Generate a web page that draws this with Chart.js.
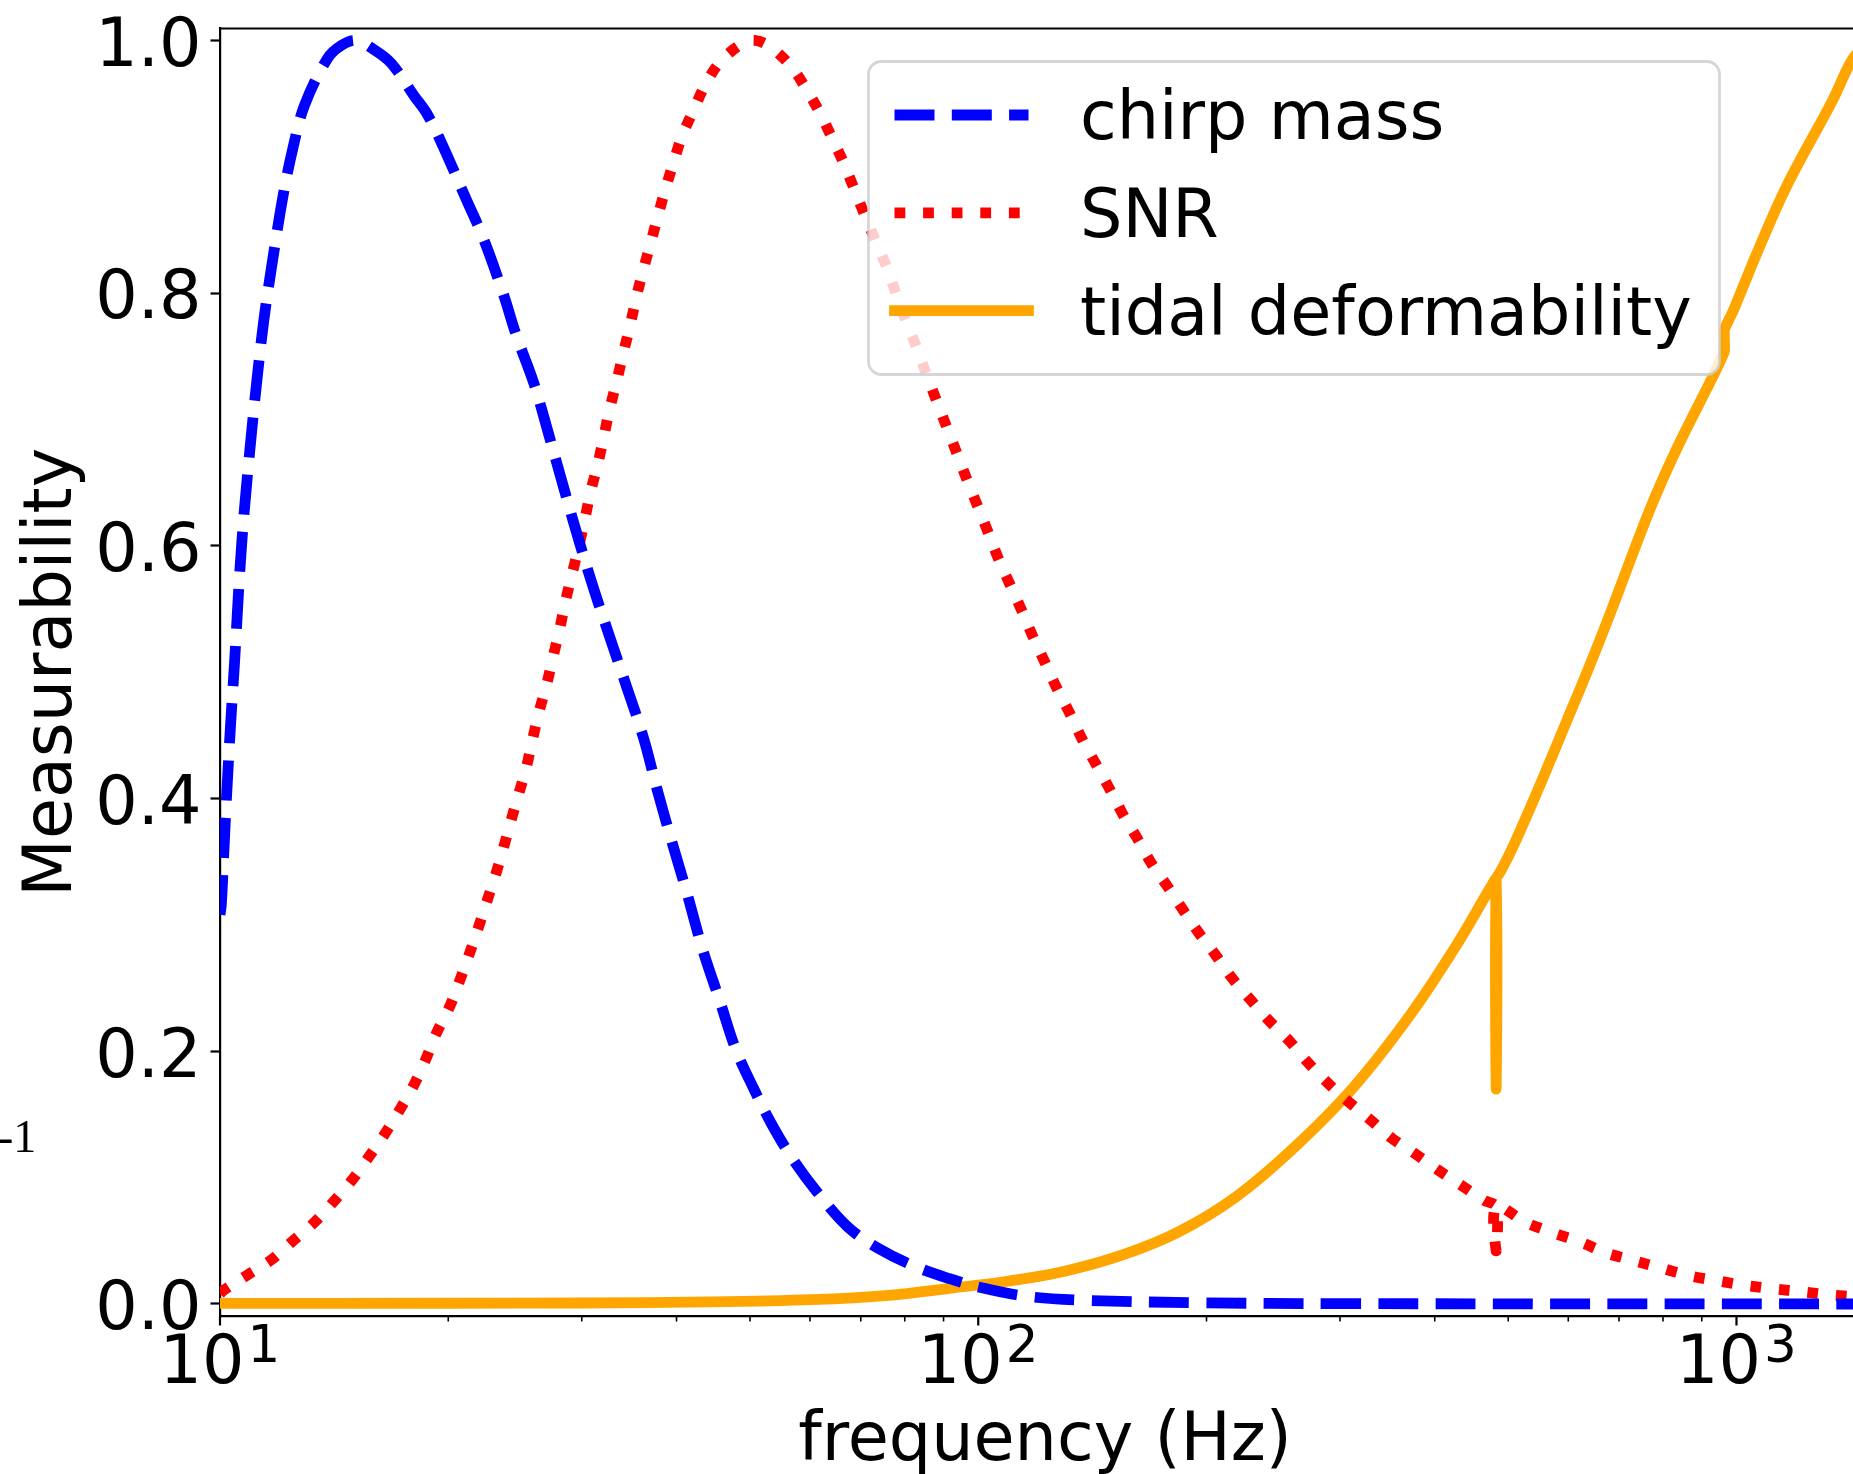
<!DOCTYPE html>
<html>
<head>
<meta charset="utf-8">
<title>Measurability vs frequency</title>
<script src="https://cdn.jsdelivr.net/npm/chart.js@4.4.1/dist/chart.umd.min.js"></script>
<style>
  html, body { margin: 0; padding: 0; background: #fff; overflow: hidden; }
  #wrap { position: relative; width: 1853px; height: 1474px; overflow: hidden; }
  #plot { position: absolute; left: 0; top: 0; }
</style>
</head>
<body>
<div id="wrap">
  <canvas id="plot" width="1870" height="1474"></canvas>
</div>
<script>
// Normalised measurability of each quantity against GW frequency (Hz).
const chirpFreq = [10.0, 10.04, 10.12, 10.20, 10.33, 10.45, 10.62, 10.77, 10.99, 11.19, 11.42, 11.69, 12.11, 12.48, 12.93, 13.87, 14.45, 15.10, 15.94, 16.82, 18.04, 18.75, 19.73, 21.06, 22.23, 23.65, 24.58, 25.96, 27.2, 28.49, 29.85, 31.26, 32.74, 34.4, 36.23, 37.64, 39.43, 41.3, 43.28, 45.67, 47.85, 50.51, 53.33, 56.75, 61.31, 67.3, 73.84, 82.31, 91.7, 100, 115, 137, 195, 300, 1500];
const chirpMeas = [0.308, 0.316, 0.359, 0.401, 0.460, 0.507, 0.580, 0.629, 0.686, 0.732, 0.778, 0.820, 0.877, 0.915, 0.949, 0.986, 0.996, 1.000, 0.993, 0.982, 0.956, 0.942, 0.915, 0.876, 0.844, 0.799, 0.767, 0.728, 0.686, 0.643, 0.601, 0.562, 0.526, 0.488, 0.447, 0.409, 0.366, 0.325, 0.281, 0.239, 0.202, 0.171, 0.143, 0.116, 0.0886, 0.061, 0.044, 0.030, 0.020, 0.0135, 0.0063, 0.003, 0.001, 0.0003, 0];

const snrFreq = [10.0, 10.09, 10.87, 11.69, 12.48, 13.34, 14.12, 14.93, 15.74, 16.51,
  17.27, 18.04, 18.69, 19.28, 20.04, 20.68, 21.32, 21.89, 22.47, 23.10,
  23.65, 24.21, 24.78, 25.36, 25.84, 26.36, 26.98, 27.49, 28.05, 28.57,
  29.14, 29.74, 30.30, 30.82, 31.50, 32.09, 32.64, 33.35, 34.04, 34.73,
  35.38, 36.10, 36.95, 37.76, 38.65, 39.62, 40.66, 42.14, 43.74, 45.81,
  48.98, 50.9, 53.16, 56.56, 59.25, 61.79, 64.24, 66.57, 68.87, 71.04,
  73.50, 75.80, 77.96, 80.41, 82.94, 85.54, 88.23, 91.0, 93.89, 96.83,
  99.88, 103.0, 106.3, 110.2, 114.1, 118.1, 122.4, 126.8, 131.9, 137.1,
  142.7, 148.9, 155.0, 161.9, 169.1, 177.4, 186.2, 195.2, 205.7, 216.1,
  228.5, 242.1, 257.4, 272.2, 288.9, 306.6, 328.7, 351.4, 376.7, 404.1,
  433.4, 464.7, 482.0, 482.0, 482.0, 527, 575.3, 622.5, 673.3, 732.2,
  795, 867.7, 947, 1024.5, 1118, 1220, 1326, 1500];
const snrMeas = [0.008, 0.0104, 0.023, 0.035, 0.050, 0.065, 0.081, 0.098, 0.117, 0.135,
  0.154, 0.174, 0.194, 0.214, 0.234, 0.255, 0.277, 0.297, 0.318, 0.340,
  0.361, 0.383, 0.404, 0.425, 0.447, 0.469, 0.491, 0.512, 0.534, 0.557,
  0.578, 0.600, 0.622, 0.643, 0.665, 0.687, 0.708, 0.730, 0.753, 0.774,
  0.796, 0.817, 0.839, 0.860, 0.882, 0.903, 0.924, 0.945, 0.966, 0.984,
  0.998, 1.000, 0.995, 0.980, 0.962, 0.943, 0.922, 0.902, 0.880, 0.860,
  0.839, 0.820, 0.799, 0.777, 0.757, 0.735, 0.714, 0.693, 0.672, 0.651,
  0.631, 0.611, 0.590, 0.569, 0.549, 0.528, 0.508, 0.488, 0.468, 0.447,
  0.428, 0.408, 0.388, 0.369, 0.349, 0.331, 0.312, 0.294, 0.276, 0.258,
  0.241, 0.224, 0.208, 0.191, 0.175, 0.161, 0.146, 0.131, 0.119, 0.106,
  0.094, 0.082, 0.077, 0.042, 0.077, 0.0646, 0.056, 0.049, 0.0405, 0.0343,
  0.0285, 0.0223, 0.0182, 0.0148, 0.012, 0.0097, 0.0073, 0.005];

const tidalFreq = [10, 20, 30, 44.3, 60.3, 76.2, 91.7, 109.2, 130.1, 155,
  184.6, 219.9, 261.9, 311.9, 371.5, 427.3, 474.7, 482.0, 482.0, 482.0,
  488, 500, 518, 555.4, 595.8, 639, 685, 767.8, 832.7, 930.6,
  958, 964.0, 964.0, 970, 990, 1061, 1163, 1340, 1422, 1500];
const tidalMeas = [0.0005, 0.0006, 0.0008, 0.0017, 0.0035, 0.0069, 0.0124, 0.018, 0.026, 0.0388,
  0.0577, 0.0858, 0.1246, 0.1709, 0.229, 0.284, 0.3305, 0.336, 0.170, 0.336,
  0.342, 0.354, 0.374, 0.416, 0.460, 0.504, 0.550, 0.628, 0.676, 0.734,
  0.750, 0.754, 0.771, 0.775, 0.786, 0.830, 0.884, 0.953, 0.985, 1.0];

const seriesLabels = ['chirp mass', 'SNR', 'tidal deformability'];
const yTicks = [0, 0.2, 0.4, 0.6, 0.8, 1.0];
const xMajorTicks = [10, 100, 1000];
const xTickExponents = ['1', '2', '3'];

const FONT = "'DejaVu Sans'";
const FS = 66.8;      // main text size
const FS_EXP = 51.5;  // exponent size on the log axis
const LW = 10.8;

const toPoints = (xs, ys) => xs.map((x, i) => ({ x, y: ys[i] }));

// frame, log ticks on x, legend box and the stray edge label
const decorations = {
  id: 'decorations',
  afterDatasetsDraw(chart) {
    const { ctx, chartArea: area, scales: { x } } = chart;
    ctx.save();

    ctx.strokeStyle = '#000';
    ctx.lineWidth = 2.2;
    ctx.beginPath();
    ctx.moveTo(area.left, area.top);
    ctx.lineTo(area.right, area.top);
    ctx.lineTo(area.right, area.bottom);
    ctx.stroke();

    ctx.fillStyle = '#000';
    ctx.textAlign = 'left';
    ctx.textBaseline = 'alphabetic';
    xMajorTicks.forEach((major, i) => {
      for (let m = 1; m < 10; m++) {
        const v = major * m;
        if (v < x.min || v > x.max) continue;
        const px = x.getPixelForValue(v);
        ctx.lineWidth = m === 1 ? 2.2 : 1.6;
        ctx.beginPath();
        ctx.moveTo(px, area.bottom);
        ctx.lineTo(px, area.bottom + (m === 1 ? 9.5 : 5.5));
        ctx.stroke();
      }
      const px = x.getPixelForValue(major);
      const exp = xTickExponents[i];
      ctx.font = `${FS}px ${FONT}`;
      const baseW = ctx.measureText('10').width;
      ctx.font = `${FS_EXP}px ${FONT}`;
      const expW = ctx.measureText(exp).width;
      const left = px - (baseW + 3 + expW) / 2;
      ctx.font = `${FS}px ${FONT}`;
      ctx.fillText('10', left, area.bottom + 67.3);
      ctx.font = `${FS_EXP}px ${FONT}`;
      ctx.fillText(exp, left + baseW + 3, area.bottom + 45.7);
    });

    // legend
    const bx = 868.5, by = 61.5, bw = 851, bh = 313, r = 13;
    ctx.beginPath();
    ctx.moveTo(bx + r, by);
    ctx.lineTo(bx + bw - r, by);
    ctx.arcTo(bx + bw, by, bx + bw, by + r, r);
    ctx.lineTo(bx + bw, by + bh - r);
    ctx.arcTo(bx + bw, by + bh, bx + bw - r, by + bh, r);
    ctx.lineTo(bx + r, by + bh);
    ctx.arcTo(bx, by + bh, bx, by + bh - r, r);
    ctx.lineTo(bx, by + r);
    ctx.arcTo(bx, by, bx + r, by, r);
    ctx.closePath();
    ctx.fillStyle = 'rgba(255,255,255,0.8)';
    ctx.fill();
    ctx.strokeStyle = 'rgba(204,204,204,0.8)';
    ctx.lineWidth = 2.8;
    ctx.stroke();

    chart.data.datasets.forEach((ds, i) => {
      const y = 115 + i * 97.8;
      ctx.strokeStyle = ds.borderColor;
      ctx.lineWidth = ds.borderWidth;
      ctx.setLineDash(ds.borderDash || []);
      ctx.lineCap = ds.borderDash ? 'butt' : 'square';
      ctx.beginPath();
      ctx.moveTo(894.5, y);
      ctx.lineTo(1028.5, y);
      ctx.stroke();
      ctx.setLineDash([]);
      ctx.fillStyle = '#000';
      ctx.font = `${FS}px ${FONT}`;
      ctx.fillText(ds.label, 1080, y + 24.3);
    });

    ctx.font = "46px 'Liberation Serif'";
    ctx.fillText('-1', -2, 1151.5);
    ctx.restore();
  }
};

Chart.defaults.font.family = FONT;
Chart.defaults.color = '#000';

new Chart(document.getElementById('plot'), {
  type: 'line',
  data: {
    datasets: [
      {
        label: seriesLabels[0],
        data: toPoints(chirpFreq, chirpMeas),
        borderColor: '#0000ff',
        borderWidth: LW,
        borderDash: [40, 17.3]
      },
      {
        label: seriesLabels[1],
        data: toPoints(snrFreq, snrMeas),
        borderColor: '#ff0000',
        borderWidth: LW,
        borderDash: [10.8, 17.8]
      },
      {
        label: seriesLabels[2],
        data: toPoints(tidalFreq, tidalMeas),
        borderColor: '#ffa500',
        borderWidth: LW
      }
    ]
  },
  options: {
    responsive: false,
    animation: false,
    devicePixelRatio: 1,
    layout: { padding: { top: 28.5, right: 0, bottom: 0, left: 0 } },
    elements: {
      point: { radius: 0 },
      line: { tension: 0.35, borderJoinStyle: 'round', borderCapStyle: 'butt' }
    },
    datasets: { line: { clip: 0 } },
    plugins: { legend: { display: false }, tooltip: { enabled: false } },
    scales: {
      x: {
        type: 'logarithmic',
        min: 10,
        max: 1500,
        grid: { display: false },
        border: { display: true, color: '#000', width: 2.2 },
        ticks: { display: false },
        title: {
          display: true,
          text: 'frequency (Hz)',
          font: { size: FS, lineHeight: 1 },
          padding: { top: 0, bottom: -2 }
        },
        afterFit(s) {
          s.height = 158;
          s.paddingLeft = 0;
          s.paddingRight = 0;
        }
      },
      y: {
        min: -0.0095,
        max: 1.0095,
        afterBuildTicks(s) {
          s.ticks = yTicks.map(v => ({ value: v }));
        },
        grid: {
          drawOnChartArea: false,
          drawTicks: true,
          tickLength: 9.5,
          tickWidth: 2.2,
          tickColor: '#000'
        },
        border: { display: true, color: '#000', width: 2.2 },
        ticks: {
          autoSkip: false,
          padding: 8.9,
          labelOffset: 7.9,
          font: { size: FS },
          callback: v => v.toFixed(1)
        },
        title: {
          display: true,
          text: 'Measurability',
          font: { size: FS, lineHeight: 1 },
          padding: { top: 19.9, bottom: 0 }
        },
        afterFit(s) {
          s.width = 220;
          s.paddingTop = 0;
          s.paddingBottom = 0;
        }
      }
    }
  },
  plugins: [decorations]
});
</script>
</body>
</html>
